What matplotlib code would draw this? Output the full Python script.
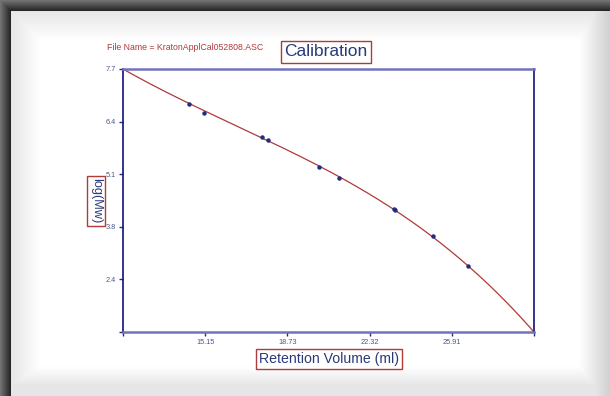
import numpy as np
import matplotlib
matplotlib.use('Agg')
import matplotlib.pyplot as plt

plt.rcParams['font.family'] = ['Liberation Sans', 'DejaVu Sans']

# calibration standards (retention volume in ml, log Mw)
ret_vol = [14.44, 15.11, 17.61, 17.88, 20.10, 20.98, 23.39, 23.45, 25.08, 26.61]
log_mw = [6.83, 6.60, 6.00, 5.91, 5.24, 4.96, 4.19, 4.17, 3.51, 2.76]

# fitted calibration curve
curve_x = [11.56, 14.44, 17.61, 20.10, 23.39, 26.61, 29.50]
curve_y = [7.70, 6.83, 6.00, 5.24, 4.19, 2.76, 1.10]

x_ticks = [11.56, 15.15, 18.73, 22.32, 25.91, 29.50]
x_labels = ['', '15.15', '18.73', '22.32', '25.91', '']
y_ticks = [7.70, 6.38, 5.06, 3.74, 2.42, 1.10]
y_labels = ['7.7', '6.4', '5.1', '3.8', '2.4', '']

navy = '#1f2f80'
red = '#b03a3a'
label_col = '#4a5a88'

W, H = 610, 396
fig = plt.figure(figsize=(W / 100, H / 100), dpi=100)

# background panel with dark frame and soft shading
xx = np.arange(W)[None, :]
yy = np.arange(H)[:, None]
shade = np.ones((H, W))
shade = np.minimum(shade, 0.90 + 0.10 * np.clip((xx - 11) / 30, 0, 1))
shade = np.minimum(shade, 0.90 + 0.10 * np.clip((yy - 11) / 30, 0, 1))
shade = np.minimum(shade, 0.82 + 0.18 * np.clip((W - 1 - xx) / 30, 0, 1))
shade = np.minimum(shade, 0.90 + 0.10 * np.clip((386 - yy) / 20, 0, 1))
frame = 0.45 - 0.3 * np.clip(np.minimum(xx, yy) / 10, 0, 1) * np.ones((H, W))
inside = (xx >= 11) & (yy >= 11)
bg = np.where(inside, shade, frame)
bg[386:, 11:] = np.minimum(bg[386:, 11:], 0.90)
bgax = fig.add_axes([0, 0, 1, 1])
bgax.imshow(bg, cmap='gray', vmin=0, vmax=1, aspect='auto', interpolation='bilinear')
bgax.axis('off')

ax = fig.add_axes([123 / W, 1 - 332 / H, 411 / W, 263 / H])
ax.set_facecolor('white')

fit = np.polyfit(curve_x, curve_y, 3)
xs = np.linspace(curve_x[0], curve_x[-1], 300)
ax.plot(xs, np.polyval(fit, xs), color=red, lw=0.9)
ax.plot(ret_vol, log_mw, 'o', color=navy, ms=2.2, mec=navy)

ax.set_xlim(x_ticks[0], x_ticks[-1])
ax.set_ylim(y_ticks[-1], y_ticks[0])
ax.set_xticks(x_ticks)
ax.set_xticklabels(x_labels)
ax.set_yticks(y_ticks)
ax.set_yticklabels(y_labels)
ax.tick_params(length=3, width=1, color=navy, labelsize=5.3, labelcolor=label_col, pad=2)

for side in ['left', 'right']:
    ax.spines[side].set_color('#10107a')
    ax.spines[side].set_linewidth(1.2)
for side in ['top', 'bottom']:
    ax.spines[side].set_color('#7272c0')
    ax.spines[side].set_linewidth(1.8)

box = dict(boxstyle='square,pad=0.2', fc='white', ec=red, lw=1)
fig.text(326 / W, 1 - 52 / H, 'Calibration', ha='center', va='center',
         fontsize=12.5, color='#2a3a78', bbox=box)
fig.text(107 / W, 1 - 47 / H, 'File Name = KratonApplCal052808.ASC', ha='left',
         va='center', fontsize=6.3, color=red)
fig.text(329 / W, 1 - 359 / H, 'Retention Volume (ml)', ha='center', va='center',
         fontsize=10.2, color='#2a3a78', bbox=box)
fig.text(96 / W, 1 - 201 / H, 'log(Mw)', ha='center', va='center', rotation=270,
         fontsize=9.2, color='#2a3a78', bbox=box)

fig.savefig('out.png', dpi=100)
